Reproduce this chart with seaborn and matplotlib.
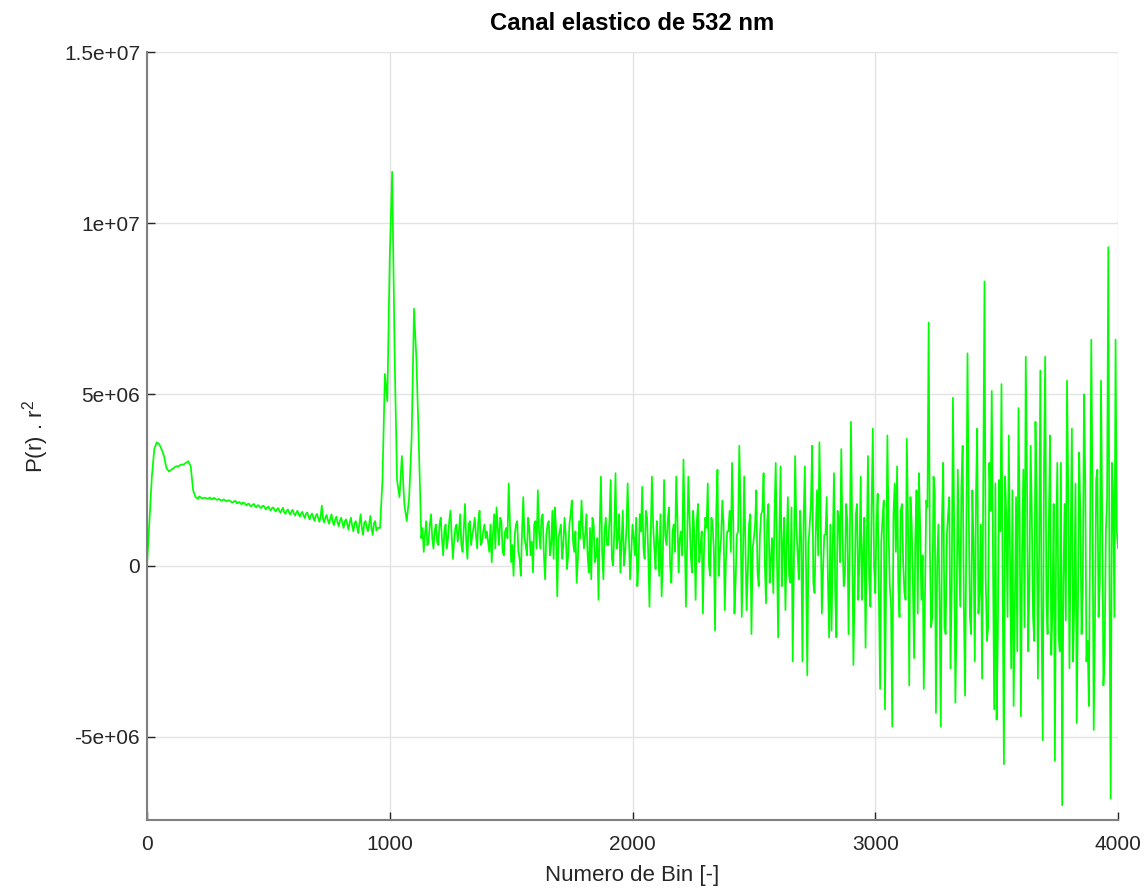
import numpy as np
import pandas as pd
import matplotlib
matplotlib.use("Agg")
import matplotlib.pyplot as plt
import seaborn as sns
from matplotlib.ticker import FixedLocator, FixedFormatter

# ---- data (signal values in units of 1e5) ----
value_unit = 1e5

# main samples, one every 10 bins from bin 0 to bin 4000
onset = [0, 13, 26, 34, 36, 35.5, 34, 32, 28.5, 27.5,
         28, 28.5, 29, 29, 29.5, 29.5, 30, 30.5, 29, 22,
         20, 19.5, 20, 19.6, 19.8, 19.5, 19.9, 19.4, 19.6, 19.2]
decay = [19.3, 19.0, 19.2, 18.8, 19.0, 18.5, 18.8, 18.2, 18.6, 17.9,
         18.3, 17.6, 18.1, 17.3, 18.0, 17.0, 17.6, 16.8, 17.5, 16.4,
         17.2, 16.1, 17.0, 15.8, 16.8, 15.4, 16.9, 15.1, 16.4, 14.9,
         16.3, 14.6, 16.0, 14.3, 15.7, 13.9, 15.5, 13.5, 15.2, 13.0,
         15.1, 12.8, 17.5, 12.6, 14.8, 12.2, 15.0, 11.8, 14.3, 11.5,
         14.0, 11.0, 13.5, 10.5, 14.0, 10.0, 13.0, 9.5, 15.0, 9.0,
         13.0, 10.0, 14.5, 9.0, 13.0, 11.0]
peaks = [11, 25, 56, 48, 90, 115, 62, 25, 20, 32, 18, 13, 20, 37, 75, 60, 35]
noise = [8, 4, 13, 7, 15, 5, 12,
         6, 14, 3, 12, 8, 16, 2, 11, 7, 15,
         4, 18, 2, 13, 9, 14, 5, 16, 7, 12,
         10, 4, 1, 15, 17, 6, 13, 3, 11, 24,
         1, -3, 12, 4, -3, 20, 6, 14, 3, -2,
         13, 22, 5, 15, -4, 12, 3, 16, 17, -9,
         10, 2, 14, -1, 12, 19, 4, -5, 13, 19,
         5, 15, -2, -4, 12, 3, -10, 26, -4, 14,
         6, 25, 0, 27, 8, -2, 16, 4, 24, -4,
         12, 3, -6, 15, 23, 2, 14, -12, 26, 5,
         13, -3, -9, 25, 6, 17, -5, 12, 26, -2,
         10, 31, -12, 26, 3, 16, -10, 18, 5, -14,
         14, 24, -3, 12, -19, 28, 4, 19, -13, 10,
         16, 30, -14, 9, 35, -15, 26, -13, 12, -20,
         8, 22, -6, 15, 27, -11, 18, 2, -8, 30,
         -21, 29, 6, -13, 20, -5, -28, 32, 4, 16,
         -28, 29, -32, 12, 35, -8, 22, 36, -14, 9,
         20, -21, -19, 27, -21, 14, 34, -6, 18, -20,
         42, -29, 15, -10, 26, 3, -24, 32, -12, 40,
         -8, 21, -36, 14, -42, 38, -6, -47, 24, 29,
         -15, 18, -8, 37, -35, 12, -27, 22, 27, -10,
         -36, 19, 71, -18, 26, -43, 12, -47, 30, -20,
         15, -30, 49, -40, 28, -12, 35, -38, 62, -15,
         22, -28, 40, -8, -33, 83, -22, 30, 51, -42,
         -45, 25, 53, -58, 14, 38, -30, -41, 20, 46,
         -44, 28, 61, -25, 35, -15, 42, -33, 57, -51,
         61, -20, 38, -12, -57, 30, -25, -70, 18, 54,
         -30, 40, -10, -46, 33, -20, 50, -28, -41, 66,
         -48, 25, -15, 54, -35, 10, 93, -68, 20, 66,
         5]

# in-between samples (bins 215..945 and 1135..3995, every 10 bins)
decay_mid = [20.2, 19.7, 19.8, 19.6, 19.7, 19.3, 19.8, 19.3, 19.5,
             19.0, 19.3, 18.9, 19.1, 18.7, 18.5, 18.9, 18.3, 18.2, 18.4,
             17.9, 18.0, 17.5, 17.8, 17.4, 17.6, 17.1, 17.4, 16.9, 17.0,
             16.5, 16.8, 16.3, 16.4, 16.0, 16.2, 15.6, 15.9, 15.6, 15.8,
             15.2, 15.5, 15.0, 15.3, 14.6, 15.1, 14.4, 14.6, 14.1, 14.5,
             13.9, 14.2, 13.6, 14.0, 13.3, 13.7, 12.9, 13.4, 12.6, 13.2,
             12.4, 13.0, 12.1, 12.6, 11.7, 12.3, 11.4, 12.2, 11.0, 12.5,
             11.3, 12.0, 10.8, 12.4, 10.3]
noise_mid = [11, 9, 6, 12, 8, 10, 7,
             12, 8, 10, 5, 13, 9, 7, 12, 10, 6,
             11, 7, 12, 6, 11, 9, 13, 6, 10, 8,
             7, 12, 9, 5, 11, 14, 4, 10, 8, 12,
             6, 9, 13, 2, 10, 8, 3, 11, 7, 12,
             5, 10, 14, 3, 9, 13, 6, 2, 11, 8,
             12, 6, 9, 3, 15, 7, 10, 2, 8, 11,
             9, 3, 11, 14, 1, 8, 12, 4, 10, 6,
             13, 2, 10, 5, 15, 7, 0, 11, 9, 4,
             8, 14, 1, 10, 5, 16, 3, 9, 12, -1,
             7, 15, 2, 9, 13, 0, 10, 4, 14, 8,
             3, 12, 6, 15, -2, 9, 13, 1, 10, 6,
             11, 0, 14, 5, 16, -3, 8, 12, 2, 10,
             4, 13, -4, 10, 17, 2, 7, -2, 15, 5,
             12, -2, 9, 16, 1, 13, -5, 8, 15, 3,
             10, -6, 14, 6, -3, 17, 2, 11, -4, 8,
             14, -2, 6, 18, -5, 10, 3, 15, -1, 9,
             -4, 12, 6, -8, 16, 1, 9, -3, 13, 5,
             11, -7, 18, 2, -10, 14, 6, -4, 17, 0,
             12, -9, 7, 19, -2, 10, -12, 15, 4, -6,
             16, 1, -10, 13, 20, -5, 8, -14, 11, 3,
             -8, 17, 5, -15, 22, 0, -9, 14, -18, 9,
             20, -6, 11, -16, 4, 23, -12, 8, 18, -20,
             6, 21, -14, 12, 25, -4, -18, 16, 2, 24,
             -20, 10, -8, 26, -15, 5, 22, -12, -25, 14,
             4, -18, 27, -6, 15, -22, 20, 3, -14, 28,
             -10, 12, -26, 18, 6, -20, 30, -4, -16, 22,
             8, -28, 24, -12, 14, -6, 26, -22, 10, 18,
             -18, 28, -5, 12, -26, 20, -8, 30, -15, 10]

main_bins = np.arange(0, 4001, 10)
decay_mid_bins = np.arange(215, 946, 10)
noise_mid_bins = np.arange(1135, 4000, 10)

y_ticks = [-5e6, 0, 5e6, 1e7, 1.5e7]
y_tick_labels = ["-5e+06", "0", "5e+06", "1e+07", "1.5e+07"]
x_ticks = [0, 1000, 2000, 3000, 4000]
x_tick_labels = ["0", "1000", "2000", "3000", "4000"]

title = "Canal elastico de 532 nm"
xlabel = "Numero de Bin [-]"
ylabel = "P(r) . r$^{2}$"

main_vals = onset + decay + peaks + noise
df = pd.DataFrame({
    "bin": np.concatenate([main_bins, decay_mid_bins, noise_mid_bins]),
    "signal": np.array(main_vals + decay_mid + noise_mid, dtype=float) * value_unit,
}).sort_values("bin").reset_index(drop=True)

# ---- plot ----
sns.set_theme(style="whitegrid")
plt.rcParams["font.family"] = ["Liberation Sans", "DejaVu Sans"]
plt.rcParams["mathtext.fontset"] = "custom"
plt.rcParams["mathtext.rm"] = "Liberation Sans"

fig = plt.figure(figsize=(11.48, 8.89), dpi=100)
ax = fig.add_axes([147 / 1148, 1 - 820 / 889, (1118 - 147) / 1148, (820 - 52) / 889])

sns.lineplot(data=df, x="bin", y="signal", ax=ax, color="#00ff00",
             linewidth=1.25, estimator=None, errorbar=None, sort=False)

ax.set_xlim(0, 4000)
ax.set_ylim(-7.43e6, 1.5e7)
ax.xaxis.set_major_locator(FixedLocator(x_ticks))
ax.xaxis.set_major_formatter(FixedFormatter(x_tick_labels))
ax.yaxis.set_major_locator(FixedLocator(y_ticks))
ax.yaxis.set_major_formatter(FixedFormatter(y_tick_labels))

ax.set_facecolor("white")
ax.grid(True, color="#e3e3e3", linewidth=1.0)
for side in ["top", "right"]:
    ax.spines[side].set_visible(False)
for side in ["left", "bottom"]:
    ax.spines[side].set_visible(True)
    ax.spines[side].set_color("#808080")
    ax.spines[side].set_linewidth(1.5)

ax.tick_params(axis="both", direction="in", length=6, width=1.0,
               color="#262626", labelsize=15, labelcolor="#262626",
               left=True, bottom=True)
ax.tick_params(axis="y", pad=5)
ax.tick_params(axis="x", pad=11)

ax.set_title(title, fontsize=17.2, fontweight="bold", color="black", pad=16)
ax.set_xlabel(xlabel, fontsize=16, color="#262626", labelpad=8)
ax.set_ylabel(ylabel, fontsize=16, color="#262626", labelpad=9)

fig.savefig("out.png", dpi=100)
